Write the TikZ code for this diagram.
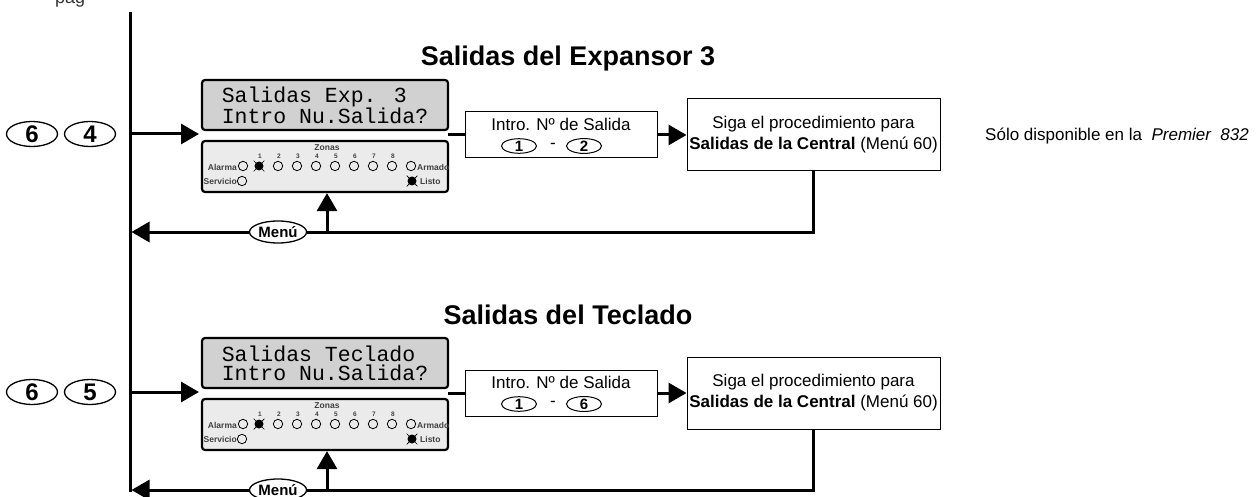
\documentclass[tikz,border=0pt]{standalone}
\usepackage{fontspec}
\setmainfont{Liberation Sans}
\newfontfamily\lcdfont{Liberation Mono}
\usetikzlibrary{arrows.meta,shapes.geometric}
\tikzset{
	flow/.style={line width=3pt,-{Triangle[length=18pt,width=20pt]}},
	plain/.style={line width=3pt},
	keybig/.style={draw,ellipse,fill=white,line width=1.3pt,minimum width=51pt,minimum height=25pt,inner sep=0pt,font=\bfseries\fontsize{24}{24}\selectfont},
	keysmall/.style={draw,ellipse,line width=1pt,minimum width=35pt,minimum height=13pt,inner sep=0pt,font=\bfseries\fontsize{15}{15}\selectfont},
	menukey/.style={draw,ellipse,fill=white,line width=1.3pt,minimum width=57pt,minimum height=22pt,inner sep=0pt,font=\bfseries\fontsize{15}{15}\selectfont},
	lcdbox/.style={draw,rounded corners=3pt,line width=2.2pt,fill=black!18,minimum width=246pt,minimum height=50pt,inner sep=0pt,align=left,font=\lcdfont\fontsize{21.5}{19}\selectfont},
	ledbox/.style={draw,rounded corners=3pt,line width=2.2pt,fill=black!8,minimum width=246pt,minimum height=51pt,inner sep=0pt},
	infobox/.style={draw,line width=1pt,inner sep=0pt,align=center,font=\fontsize{17}{21}\selectfont},
	boxtxt/.style={inner sep=0pt,font=\fontsize{17}{17}\selectfont},
	ledlbl/.style={inner sep=0pt,font=\bfseries\fontsize{8.5}{8.5}\selectfont,text=black!75},
	ledon/.pic={
		\fill (0,0) circle (4.5pt);
		\foreach \a in {45,135,225,315} \draw[line width=0.7pt] (\a:3pt) -- (\a:7.5pt);
	}
}
\begin{document}
\begin{tikzpicture}[x=1pt,y=-1pt]
	\useasboundingbox (0,0) rectangle (1260,497);
	% cut text of the page above
	\node[anchor=base west,inner sep=0pt,font=\fontsize{18}{18}\selectfont,text=black!80] (pagtxt) at (55,4) {pag};
	% main line
	\coordinate (tr0) at (130,12);
	\coordinate (tr9) at (130,492);
	\draw[plain] (tr0) -- (tr9);
	% note
	\node[anchor=west,inner sep=0pt,font=\fontsize{17}{20}\selectfont] (nota) at (985,136) {Sólo disponible en la \ \textit{Premier \ 832}};
	\foreach \r/\yo/\kk/\lcdtxt/\ttl/\kmax in {1/0/4/{Salidas Exp. 3}/{Salidas del Expansor 3}/2, 2/258/5/{Salidas Teclado}/{Salidas del Teclado}/6}{
		% title
		\node[anchor=base,inner sep=0pt,font=\bfseries\fontsize{27}{27}\selectfont] (ttl\r) at (568,66+\yo) {\ttl};
		% keys
		\node[keybig] (ka\r) at (32,134+\yo) {6};
		\node[keybig] (kb\r) at (90,134+\yo) {\kk};
		% display and leds
		\node[lcdbox] (lcd\r) at (325,105+\yo) {\lcdtxt\\Intro Nu.Salida?};
		\node[ledbox] (led\r) at (325,166.5+\yo) {};
		\node[ledlbl] (zonas\r) at (327,148+\yo) {Zonas};
		\foreach \i in {1,...,8}{
			\node[ledlbl,font=\bfseries\fontsize{6.5}{6.5}\selectfont] (n\r-\i) at (241+19*\i,156+\yo) {\i};
		}
		\foreach \i in {2,...,8}
			\draw[line width=0.8pt] (240+19*\i,166+\yo) circle (4.7pt);
		\pic at (259,166+\yo) {ledon};
		\draw[line width=0.8pt] (243,166+\yo) circle (4.7pt);
		\draw[line width=0.8pt] (411,166+\yo) circle (4.7pt);
		\draw[line width=0.8pt] (242,181+\yo) circle (4.7pt);
		\pic at (412,181+\yo) {ledon};
		\node[ledlbl,anchor=east] (alarma\r) at (237,167+\yo) {Alarma};
		\node[ledlbl,anchor=east] (serv\r) at (237,181+\yo) {Servicio};
		\node[ledlbl,anchor=west] (arm\r) at (417,167+\yo) {Armado};
		\node[ledlbl,anchor=west] (listo\r) at (420,181+\yo) {Listo};
		% boxes
		\node[infobox,minimum width=192pt,minimum height=46pt] (num\r) at (561,135+\yo) {};
		\node[boxtxt] (numtxt\r) at (561,124+\yo) {Intro. Nº de Salida};
		\node[keysmall] (k1\r) at (519,146+\yo) {1};
		\node[boxtxt] (dash\r) at (553,146+\yo) {-};
		\node[keysmall] (k2\r) at (584,146+\yo) {\kmax};
		\node[infobox,minimum width=253pt,minimum height=72pt] (proc\r) at (813.5,135+\yo) {Siga el procedimiento para\\\textbf{Salidas de la Central} (Menú 60)};
		% arrows
		\coordinate (tr\r) at (130,134+\yo);
		\coordinate (in\r) at (199,134+\yo);
		\coordinate (out\r) at (448,135+\yo);
		\draw[flow] (tr\r) -- (in\r);
		\draw[plain] (out\r) -- (num\r);
		\draw[flow] (num\r) -- (proc\r);
		% back to menu
		\node[menukey] (menu\r) at (278,232+\yo) {Menú};
		\coordinate (ret\r) at (813.5,232+\yo);
		\coordinate (back\r) at (131.5,232+\yo);
		\coordinate (up\r) at (327,232+\yo);
		\draw[plain] (proc\r) -- (ret\r) -- (menu\r);
		\draw[flow] (menu\r) -- (back\r);
		\draw[flow] (up\r) -- (led\r.south -| up\r);
	}
\end{tikzpicture}
\end{document}
